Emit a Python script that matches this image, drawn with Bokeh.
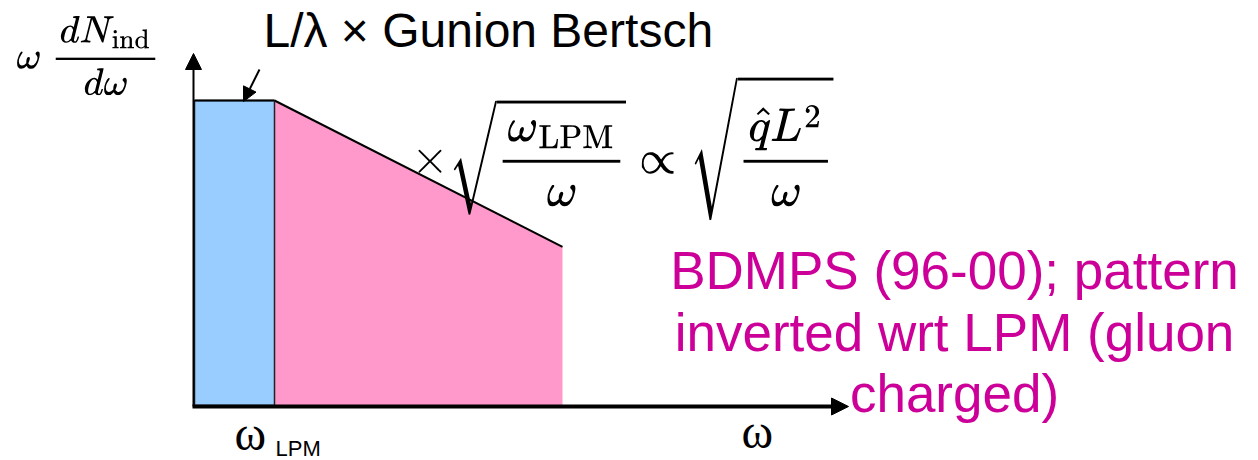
from bokeh.plotting import figure
from bokeh.models import Range1d, Label, Arrow, NormalHead
from bokeh.embed import file_html
from bokeh.resources import INLINE

# Schematic induced gluon spectrum, omega in units of omega_LPM,
# height normalised to the Gunion-Bertsch plateau.
gb_omega = [0.0, 1.0]          # plateau region (L/lambda x Gunion-Bertsch)
gb_level = [1.0, 1.0]
bdmps_omega = [1.0, 4.6]       # coherent (BDMPS) suppression region
bdmps_level = [1.0, 0.52]

title_text = "L/\u03bb \u00d7 Gunion Bertsch"
note_lines = ["BDMPS (96-00); pattern", "inverted wrt LPM (gluon", "charged)"]
y_label_tex = r"$$\omega\;\frac{dN_{\rm ind}}{d\omega}$$"
slope_tex = r"$$\times\sqrt{\frac{\omega_{\rm LPM}}{\omega}}\propto\sqrt{\frac{\hat{q}L^2}{\omega}}$$"

W, H = 1258, 460
X0, Y0 = 194, 405            # canvas position of the origin
SX, SY = 80.0, 305.0         # pixels per unit


def cx(px):
    return (px - X0) / SX


def cy(py):
    return (Y0 - py) / SY


p = figure(width=W, height=H,
           x_range=Range1d(cx(0), cx(W)), y_range=Range1d(cy(H), cy(0)),
           x_axis_type=None, y_axis_type=None,
           toolbar_location=None, output_backend="svg", min_border=0)
p.grid.visible = False
p.outline_line_color = None
p.background_fill_color = "white"

# BDMPS region: falling edge
p.patch(x=[bdmps_omega[0], bdmps_omega[1], bdmps_omega[1], bdmps_omega[0]],
        y=[bdmps_level[0], bdmps_level[1], 0, 0],
        fill_color="#FF99CC", line_color=None)
p.line(x=bdmps_omega, y=bdmps_level, line_color="black", line_width=2)

# Gunion-Bertsch plateau
p.quad(left=gb_omega[0], right=gb_omega[1], bottom=0, top=gb_level[0],
       fill_color="#99CCFF", line_color="#222222", line_width=1.5)
p.line(x=gb_omega, y=gb_level, line_color="black", line_width=2)

# axes drawn as arrows
p.add_layout(Arrow(end=NormalHead(size=16, fill_color="black", line_color="black"),
                   x_start=cx(193), y_start=cy(406), x_end=cx(193), y_end=cy(53),
                   line_color="black", line_width=2))
p.add_layout(Arrow(end=NormalHead(size=17, fill_color="black", line_color="black"),
                   x_start=cx(192), y_start=cy(406), x_end=cx(848), y_end=cy(406),
                   line_color="black", line_width=4))

# pointer to the plateau
p.add_layout(Arrow(end=NormalHead(size=14, fill_color="black", line_color="black"),
                   x_start=cx(259), y_start=cy(69), x_end=cx(243), y_end=cy(101),
                   line_color="black", line_width=2))

sans = "Liberation Sans"
serif = "Liberation Serif"

p.add_layout(Label(x=cx(263), y=cy(30), text=title_text, text_font=sans,
                   text_font_size="48px", text_color="black",
                   text_align="left", text_baseline="middle"))

p.add_layout(Label(x=cx(16), y=cy(55), text=y_label_tex, text_font_size="32px",
                   text_color="black", text_align="left", text_baseline="middle"))

p.add_layout(Label(x=cx(411), y=cy(147), text=slope_tex, text_font_size="38px",
                   text_color="black", text_align="left", text_baseline="middle"))

for line, mid in zip(note_lines, [270, 332, 393]):
    p.add_layout(Label(x=cx(954), y=cy(mid), text=line, text_font=sans,
                       text_font_size="53px", text_color="#CC0099",
                       text_align="center", text_baseline="middle"))

# tick-like labels on the omega axis
p.add_layout(Label(x=cx(234), y=cy(433), text="\u03c9", text_font=serif,
                   text_font_size="48px", text_color="black",
                   text_align="left", text_baseline="middle"))
p.add_layout(Label(x=cx(275), y=cy(448), text="LPM", text_font=sans,
                   text_font_size="22px", text_color="black",
                   text_align="left", text_baseline="middle"))
p.add_layout(Label(x=cx(741), y=cy(431), text="\u03c9", text_font=serif,
                   text_font_size="48px", text_color="black",
                   text_align="left", text_baseline="middle"))

open("out.html", "w").write(file_html(p, INLINE))
